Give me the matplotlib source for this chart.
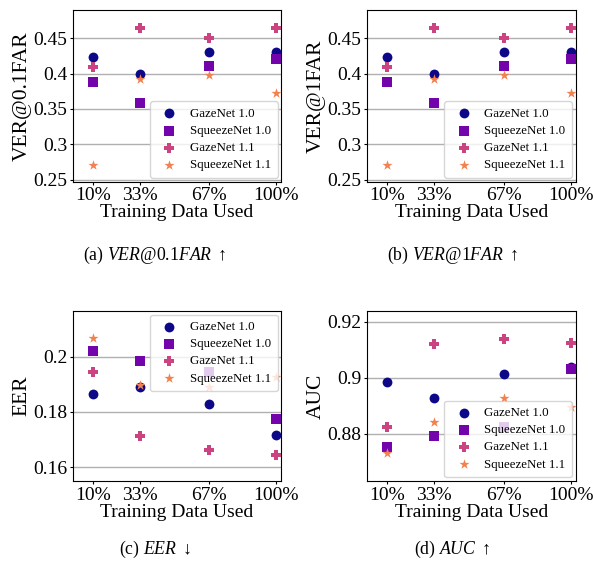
import numpy as np
import matplotlib
matplotlib.use("Agg")
import matplotlib.pyplot as plt

matplotlib.rcParams.update({
    'font.family': ['Liberation Serif', 'DejaVu Serif'],
    'mathtext.fontset': 'custom',
    'mathtext.rm': 'Liberation Serif',
    'mathtext.it': 'Liberation Serif:italic',
    'mathtext.fallback': 'cm',
})

data_used = [10, 33, 67, 100]
tick_labels = ['10%', '33%', '67%', '100%']
series = ['GazeNet 1.0', 'SqueezeNet 1.0', 'GazeNet 1.1', 'SqueezeNet 1.1']

ver01_gaze10 = [0.424, 0.399, 0.430, 0.431]
ver01_squeeze10 = [0.388, 0.358, 0.411, 0.420]
ver01_gaze11 = [0.410, 0.465, 0.451, 0.465]
ver01_squeeze11 = [0.271, 0.392, 0.398, 0.373]

ver1_gaze10 = [0.424, 0.399, 0.430, 0.431]
ver1_squeeze10 = [0.388, 0.358, 0.411, 0.420]
ver1_gaze11 = [0.410, 0.465, 0.451, 0.465]
ver1_squeeze11 = [0.271, 0.392, 0.398, 0.373]

eer_gaze10 = [0.1865, 0.1891, 0.1829, 0.1715]
eer_squeeze10 = [0.2021, 0.1984, 0.1945, 0.1773]
eer_gaze11 = [0.1945, 0.1714, 0.1664, 0.1646]
eer_squeeze11 = [0.2068, 0.1897, 0.1892, 0.1926]

auc_gaze10 = [0.8985, 0.8929, 0.9013, 0.9037]
auc_squeeze10 = [0.8752, 0.8792, 0.8825, 0.9032]
auc_gaze11 = [0.8825, 0.9119, 0.9139, 0.9126]
auc_squeeze11 = [0.8730, 0.8840, 0.8929, 0.8894]

colors = ['#0d0887', '#7303ab', '#cc4382', '#f2814f']
markers = ['o', 's', 'P', '*']
sizes = [50, 55, 62, 58]


def panel(ax, vals, ylabel, ylim, yticks, loc):
    for v, lab, c, m, s in zip(vals, series, colors, markers, sizes):
        ax.scatter(data_used, v, color=c, marker=m, s=s, label=lab, zorder=3, linewidths=0)
    ax.set_xlim(0, 102.5)
    ax.set_ylim(*ylim)
    ax.set_xticks(data_used)
    ax.set_xticklabels(tick_labels)
    ax.set_yticks(yticks)
    ax.set_yticklabels([('%g' % t) for t in yticks])
    ax.yaxis.grid(True, color='#b0b0b0', linewidth=1)
    ax.set_axisbelow(True)
    ax.tick_params(labelsize=14, length=2, pad=2)
    ax.set_xlabel('Training Data Used', fontsize=14, labelpad=0)
    ax.set_ylabel(ylabel, fontsize=15.5, labelpad=1)
    ax.legend(loc=loc, fontsize=9.3, handletextpad=0.6, borderaxespad=0.3,
              labelspacing=0.4, borderpad=0.5)


fig = plt.figure(figsize=(5.93, 5.62), dpi=100)
ax1 = fig.add_axes([0.1226, 0.6767, 0.352, 0.3055])
ax2 = fig.add_axes([0.619, 0.6767, 0.352, 0.3055])
ax3 = fig.add_axes([0.1226, 0.1441, 0.352, 0.3031])
ax4 = fig.add_axes([0.619, 0.1441, 0.352, 0.3031])

panel(ax1, [ver01_gaze10, ver01_squeeze10, ver01_gaze11, ver01_squeeze11],
      'VER@0.1FAR', (0.247, 0.49), [0.25, 0.3, 0.35, 0.4, 0.45], 'lower right')
panel(ax2, [ver1_gaze10, ver1_squeeze10, ver1_gaze11, ver1_squeeze11],
      'VER@1FAR', (0.247, 0.49), [0.25, 0.3, 0.35, 0.4, 0.45], 'lower right')
panel(ax3, [eer_gaze10, eer_squeeze10, eer_gaze11, eer_squeeze11],
      'EER', (0.155, 0.2167), [0.16, 0.18, 0.2], 'upper right')
panel(ax4, [auc_gaze10, auc_squeeze10, auc_gaze11, auc_squeeze11],
      'AUC', (0.863, 0.924), [0.88, 0.9, 0.92], 'lower right')

# subfigure captions
cap = dict(fontsize=12.8, ha='center', va='center')
fig.text(155 / 593, 1 - 255 / 562, '(a) $\\mathit{VER@0.1FAR}$ $\\uparrow$', **cap)
fig.text(452 / 593, 1 - 255 / 562, '(b) $\\mathit{VER@1FAR}$ $\\uparrow$', **cap)
fig.text(155 / 593, 1 - 549 / 562, '(c) $\\mathit{EER}$ $\\downarrow$', **cap)
fig.text(452 / 593, 1 - 549 / 562, '(d) $\\mathit{AUC}$ $\\uparrow$', **cap)

fig.savefig('out.png', dpi=100)
